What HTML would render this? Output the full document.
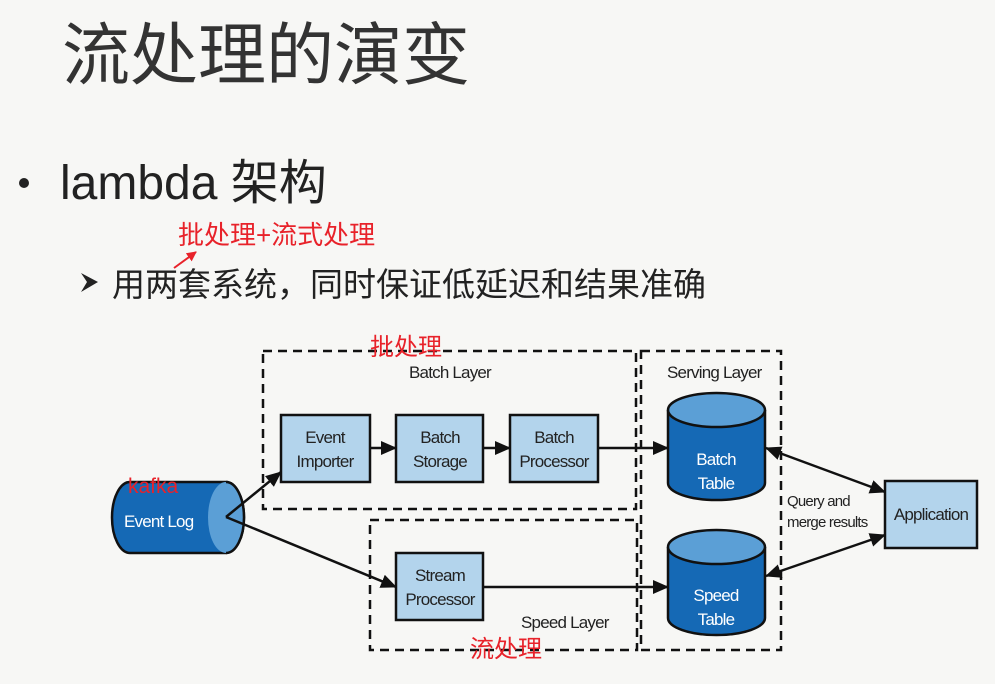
<!DOCTYPE html>
<html><head><meta charset="utf-8"><style>
html,body{margin:0;padding:0;background:#f7f7f5;}
svg{display:block}
.cn{font-family:"Liberation Sans","Noto Sans CJK SC",sans-serif;}
.d{font-family:"Liberation Sans","Noto Sans CJK SC",sans-serif;font-size:17px;fill:#222;letter-spacing:-0.8px}
.w{fill:#fff}
</style></head><body>
<svg width="995" height="684" viewBox="0 0 995 684" xmlns="http://www.w3.org/2000/svg">
<defs>
<marker id="ab" markerWidth="16" markerHeight="14" refX="15" refY="7" orient="auto" markerUnits="userSpaceOnUse"><path d="M0,0 L16,7 L0,14 z" fill="#111"/></marker>
<marker id="as" markerWidth="16" markerHeight="14" refX="1" refY="7" orient="auto" markerUnits="userSpaceOnUse"><path d="M16,0 L0,7 L16,14 z" fill="#111"/></marker>
<marker id="ar" markerWidth="10" markerHeight="10" refX="9" refY="5" orient="auto" markerUnits="userSpaceOnUse"><path d="M0,0 L10,5 L0,10 z" fill="#e8222a"/></marker>
</defs>
<rect width="995" height="684" fill="#f7f7f5"/>
<text x="62" y="79" class="cn" font-size="68" fill="#333">流处理的演变</text>
<circle cx="24" cy="183" r="5" fill="#222"/>
<text x="60" y="199" class="cn" font-size="48" fill="#222">lambda 架构</text>
<text x="178" y="244" class="cn" font-size="26" fill="#e8222a">批处理+流式处理</text>
<line x1="174" y1="268" x2="196" y2="252" stroke="#e8222a" stroke-width="2" marker-end="url(#ar)"/>
<path d="M81,273 L98,282 L81,292 L87,282 z" fill="#222"/>
<text x="112" y="296" class="cn" font-size="33" fill="#222">用两套系统，同时保证低延迟和结果准确</text>

<g fill="none" stroke="#111" stroke-width="2.5" stroke-dasharray="9,6">
<rect x="263" y="351" width="373" height="158"/>
<rect x="370" y="520" width="267" height="130"/>
<rect x="641" y="351" width="140" height="299"/>
</g>
<text x="409" y="378" class="d">Batch Layer</text>
<text x="667" y="378" class="d">Serving Layer</text>
<text x="521" y="628" class="d">Speed Layer</text>

<g fill="#b3d4ec" stroke="#111" stroke-width="2.5">
<rect x="281" y="415" width="89" height="67"/>
<rect x="396" y="415" width="87" height="67"/>
<rect x="510" y="415" width="88" height="67"/>
<rect x="396" y="553" width="87" height="67"/>
<rect x="885" y="481" width="92" height="67"/>
</g>
<text x="325" y="443" class="d" text-anchor="middle">Event</text>
<text x="325" y="467" class="d" text-anchor="middle">Importer</text>
<text x="440" y="443" class="d" text-anchor="middle">Batch</text>
<text x="440" y="467" class="d" text-anchor="middle">Storage</text>
<text x="554" y="443" class="d" text-anchor="middle">Batch</text>
<text x="554" y="467" class="d" text-anchor="middle">Processor</text>
<text x="440" y="581" class="d" text-anchor="middle">Stream</text>
<text x="440" y="605" class="d" text-anchor="middle">Processor</text>
<text x="931" y="520" class="d" text-anchor="middle">Application</text>

<path d="M130,482 L226,482 A18,35.5 0 0 1 226,553 L130,553 A18,35.5 0 0 1 130,482 z" fill="#1569b5" stroke="#111" stroke-width="2.5"/>
<ellipse cx="226" cy="517.5" rx="18" ry="35.5" fill="#5b9fd6"/>
<path d="M226,482 A18,35.5 0 0 1 226,553" fill="none" stroke="#111" stroke-width="2.5"/>
<text x="124" y="527" class="d w">Event Log</text>
<text x="128" y="493" class="cn" font-size="21" fill="#e8222a">kafka</text>

<path d="M668,410 L668,483 A48.5,17 0 0 0 765,483 L765,410" fill="#1569b5" stroke="#111" stroke-width="2.5"/>
<ellipse cx="716.5" cy="410" rx="48.5" ry="17" fill="#5b9fd6" stroke="#111" stroke-width="2.5"/>
<text x="716" y="465" class="d w" text-anchor="middle">Batch</text>
<text x="716" y="489" class="d w" text-anchor="middle">Table</text>
<path d="M668,547 L668,618 A48.5,17 0 0 0 765,618 L765,547" fill="#1569b5" stroke="#111" stroke-width="2.5"/>
<ellipse cx="716.5" cy="547" rx="48.5" ry="17" fill="#5b9fd6" stroke="#111" stroke-width="2.5"/>
<text x="716" y="601" class="d w" text-anchor="middle">Speed</text>
<text x="716" y="625" class="d w" text-anchor="middle">Table</text>

<g stroke="#111" stroke-width="2.5" fill="none">
<line x1="226" y1="517" x2="281" y2="472" marker-end="url(#ab)"/>
<line x1="226" y1="517" x2="396" y2="587" marker-end="url(#ab)"/>
<line x1="370" y1="448" x2="396" y2="448" marker-end="url(#ab)"/>
<line x1="483" y1="448" x2="510" y2="448" marker-end="url(#ab)"/>
<line x1="598" y1="448" x2="668" y2="448" marker-end="url(#ab)"/>
<line x1="483" y1="587" x2="668" y2="587" marker-end="url(#ab)"/>
<line x1="766" y1="448" x2="885" y2="492" marker-start="url(#as)" marker-end="url(#ab)"/>
<line x1="766" y1="576" x2="885" y2="535" marker-start="url(#as)" marker-end="url(#ab)"/>
</g>
<text x="787" y="506" class="d" style="font-size:15px">Query and</text>
<text x="787" y="527" class="d" style="font-size:15px">merge results</text>
<text x="370" y="355" class="cn" font-size="24" fill="#e8222a">批处理</text>
<text x="470" y="657" class="cn" font-size="24" fill="#e8222a">流处理</text>
</svg>
</body></html>
